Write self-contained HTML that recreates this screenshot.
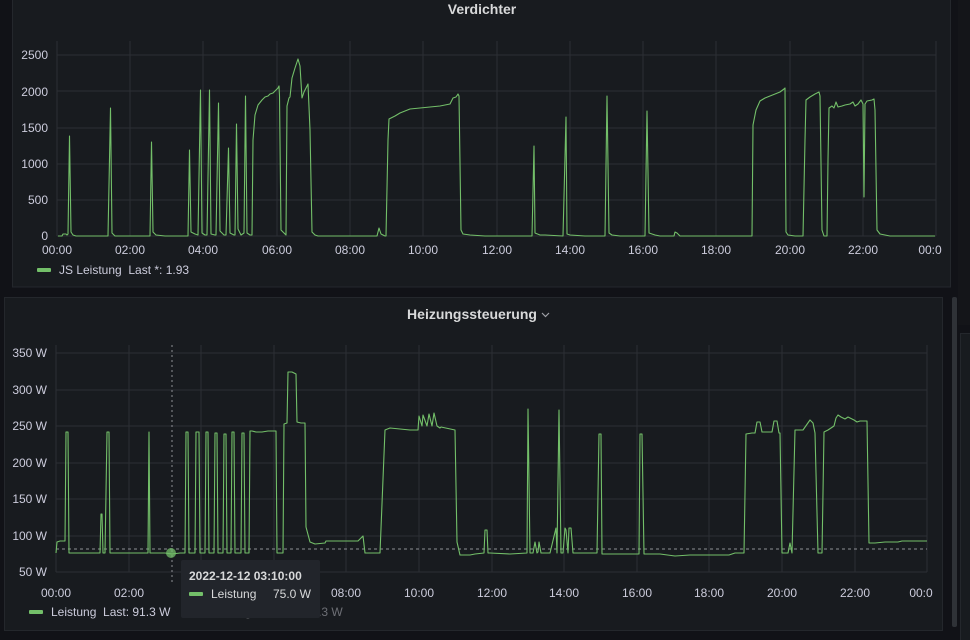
<!DOCTYPE html>
<html><head><meta charset="utf-8">
<style>
html,body{margin:0;padding:0;background:#111217;width:970px;height:640px;overflow:hidden}
svg{display:block;font-family:"Liberation Sans",sans-serif}
</style></head><body>
<svg width="970" height="640" viewBox="0 0 970 640" xmlns="http://www.w3.org/2000/svg">
<rect x="0" y="0" width="970" height="640" fill="#111217"/>
<rect x="12.5" y="-5" width="938" height="292" fill="#181b1f" stroke="#24272c"/>
<rect x="4.5" y="297.5" width="938" height="333" fill="#181b1f" stroke="#24272c"/>
<rect x="952" y="297" width="5" height="330" rx="2" fill="#2f3237"/>
<rect x="960.5" y="333.5" width="12" height="310" fill="#181b1f" stroke="#24272c"/>
<rect x="958" y="0" width="12" height="325" fill="#141519"/>

<text x="482" y="14" fill="#d8d9da" font-size="14" font-weight="bold" text-anchor="middle">Verdichter</text>
<text x="472" y="319" fill="#d8d9da" font-size="14" font-weight="bold" text-anchor="middle">Heizungssteuerung</text>
<path d="M542 313 l3.5 3.5 l3.5 -3.5" fill="none" stroke="#9fa1a7" stroke-width="1.2"/>

<g stroke="#2c2f34" stroke-width="1">
<path d="M57 55H936M57 91H936M57 128H936M57 164H936M57 200H936M57 236H936"/>
<path d="M57 41V236M130 41V236M203 41V236M277 41V236M350 41V236M423 41V236M497 41V236M570 41V236M643 41V236M716 41V236M790 41V236M863 41V236M936 41V236"/>
</g>
<g fill="#ccccdc" font-size="12" text-anchor="end">
<text x="48" y="59">2500</text><text x="48" y="96">2000</text><text x="48" y="132">1500</text>
<text x="48" y="168">1000</text><text x="48" y="204">500</text><text x="48" y="240">0</text>
</g>
<g fill="#ccccdc" font-size="12" text-anchor="middle">
<text x="57" y="254">00:00</text><text x="130" y="254">02:00</text><text x="203" y="254">04:00</text><text x="277" y="254">06:00</text><text x="350" y="254">08:00</text><text x="423" y="254">10:00</text><text x="497" y="254">12:00</text><text x="570" y="254">14:00</text><text x="643" y="254">16:00</text><text x="716" y="254">18:00</text><text x="790" y="254">20:00</text><text x="863" y="254">22:00</text><text x="930" y="254">00:0</text>
</g>
<rect x="37" y="268" width="14" height="4" rx="1" fill="#73bf69"/>
<text x="59" y="274" fill="#ccccdc" font-size="12">JS Leistung&#160;&#160;Last *: 1.93</text>

<polyline fill="none" stroke="#73bf69" stroke-width="1.1" stroke-linejoin="round" points="58,236 62,236 63,234 66,234 67,235 68,234 69.5,136 71,232 73,235 76,236 96,236 108,236 110.5,108 112,233 115,236 125,236 150,236 151.5,142 153,232 156,235 165,236 188,236 189.5,150 191,232 195,234 198,235 200.5,90 202,233 205,235 207,235 209.5,90 211,234 215,235 216,235 218.5,103 220,231 224,235 226,235 228.5,148 230,233 234,235 235,235 236.5,124 238,229 241,235 244,233 245.5,96 247,233 250,235 252,235 253,140 255,115 258,105 262,100 265,97 268,96 270,94 273,93 276,90 278,88 279,86 279.5,96 281,230 284,233 286,235 287,106 289,98 290,97 292,78 295,68 297,62 298,59 300,66 302,98 304,92 306,88 308,84 310,130 312,232 315,235 318,236 325,236 377,236 379,228 381,234 385,236 386,236 388,140 389,119 395,116 400,113 410,109 420,108 430,107 440,106 450,104 453,98 456,97 458,94 459,96 461,230 463,234 470,235 485,236 532,236 534,146 535,233 540,235 545,235 563,236 566,117 567,234 570,235 585,236 605,236 607,96 609,233 612,235 620,236 645,236 647,111 649,233 655,235 660,236 674,236 675,232 677,233 680,236 690,236 752,236 753,125 756,110 760,101 765,98 770,96 775,94 780,92 784,89 785,88 786,232 788,235 795,236 800,236 803,236 805,140 806,100 810,97 815,94 819,92 820,96 822,230 824,236 827,236 828,160 829,108 832,106 834,108 836,102 838,107 842,106 845,105 850,104 853,102 855,106 858,104 861,100 863,104 864,197 865,104 867,101 872,100 874,99 875,110 877,230 880,234 890,236 935,236"/>

<g stroke="#2c2f34" stroke-width="1">
<path d="M56 353H927M56 390H927M56 426H927M56 463H927M56 499H927M56 536H927M56 572H927"/>
<path d="M56 345V572M129 345V572M201 345V572M274 345V572M346 345V572M419 345V572M492 345V572M564 345V572M637 345V572M709 345V572M782 345V572M855 345V572M927 345V572"/>
</g>
<path d="M56 549H927" stroke="#8e9096" stroke-width="1" stroke-dasharray="3,3"/>
<path d="M172 345V582" stroke="#8e9096" stroke-width="1" stroke-dasharray="2,3"/>
<g fill="#ccccdc" font-size="12" text-anchor="end">
<text x="47" y="357">350 W</text><text x="47" y="394">300 W</text><text x="47" y="430">250 W</text>
<text x="47" y="467">200 W</text><text x="47" y="503">150 W</text><text x="47" y="540">100 W</text><text x="47" y="576">50 W</text>
</g>
<g fill="#ccccdc" font-size="12" text-anchor="middle">
<text x="56" y="597">00:00</text><text x="129" y="597">02:00</text><text x="346" y="597">08:00</text><text x="419" y="597">10:00</text><text x="492" y="597">12:00</text><text x="564" y="597">14:00</text><text x="637" y="597">16:00</text><text x="709" y="597">18:00</text><text x="782" y="597">20:00</text><text x="855" y="597">22:00</text><text x="921" y="597">00:0</text>
</g>
<rect x="29" y="610" width="14" height="4" rx="1" fill="#73bf69"/>
<text x="51" y="616" fill="#ccccdc" font-size="12">Leistung&#160;&#160;Last: 91.3 W</text>
<rect x="184" y="610" width="14" height="4" rx="1" fill="#8a7a3a"/>
<text x="206" y="616" fill="#6d6f75" font-size="12">Leistung JS&#160;&#160;Last: 91.3 W</text>

<polyline fill="none" stroke="#73bf69" stroke-width="1.1" stroke-linejoin="round" points="56,553 57,542 60,541 65,541 66,432 68,432 69,553 75,553 100,553 101,514 102,514 103,553 105,553 107,432 109,432 110,553 130,553 148,553 149,432 150,553 165,553 172,554 180,553 185,553 186,432 188,432 189,553 195,553 196,432 199,432 200,553 205,553 206,432 208,432 209,553 214,553 215,433 217,433 218,553 223,553 224,434 226,434 227,553 231,553 232,432 234,432 235,553 241,553 242,433 244,433 245,553 249,553 250,431 252,431 256,432 262,432 268,431 276,431 277,553 283,553 284,424 287,423 288,372 292,372 296,374 297,422 301,423 305,423 306,527 310,542 315,544 325,543 326,541 345,541 358,541 359,540 363,536 365,553 380,553 385,430 390,428 410,430 418,430 419,416 422,426 423,415 427,426 429,414 432,426 434,413 437,426 440,428 441,427 455,430 457,542 460,555 470,555 475,554 484,553 485,530 487,530 488,553 490,553 510,554 527,553 528,409 530,553 533,553 535,542 537,553 538,552 539,542 541,553 550,553 556,528 557,553 559,410 561,553 563,553 565,528 566,530 568,553 569,528 571,528 573,553 580,553 597,553 599,434 601,434 602,554 620,554 639,554 640,434 642,434 644,554 660,554 675,556 690,555 725,555 729,555 735,553 744,553 746,434 752,433 755,433 757,422 760,422 762,432 768,432 772,432 774,421 777,421 779,433 780,433 782,553 788,553 790,543 792,553 795,430 803,430 810,420 813,423 815,433 818,553 822,553 824,432 828,430 831,428 834,426 836,418 838,415 841,417 845,419 848,417 854,420 857,422 860,421 867,421 869,543 875,543 885,542 898,542 902,541 910,541 927,541"/>
<circle cx="171" cy="553" r="5" fill="#73bf69" opacity="0.75"/>

<rect x="181" y="560" width="139" height="58" rx="2" fill="#22252b"/>
<text x="189" y="580" fill="#d8d9da" font-size="12" font-weight="bold">2022-12-12 03:10:00</text>
<rect x="189" y="592" width="14" height="4" rx="1" fill="#73bf69"/>
<text x="211" y="598" fill="#d8d9da" font-size="12">Leistung</text>
<text x="311" y="598" fill="#d8d9da" font-size="12" text-anchor="end">75.0 W</text>
</svg>
</body></html>
